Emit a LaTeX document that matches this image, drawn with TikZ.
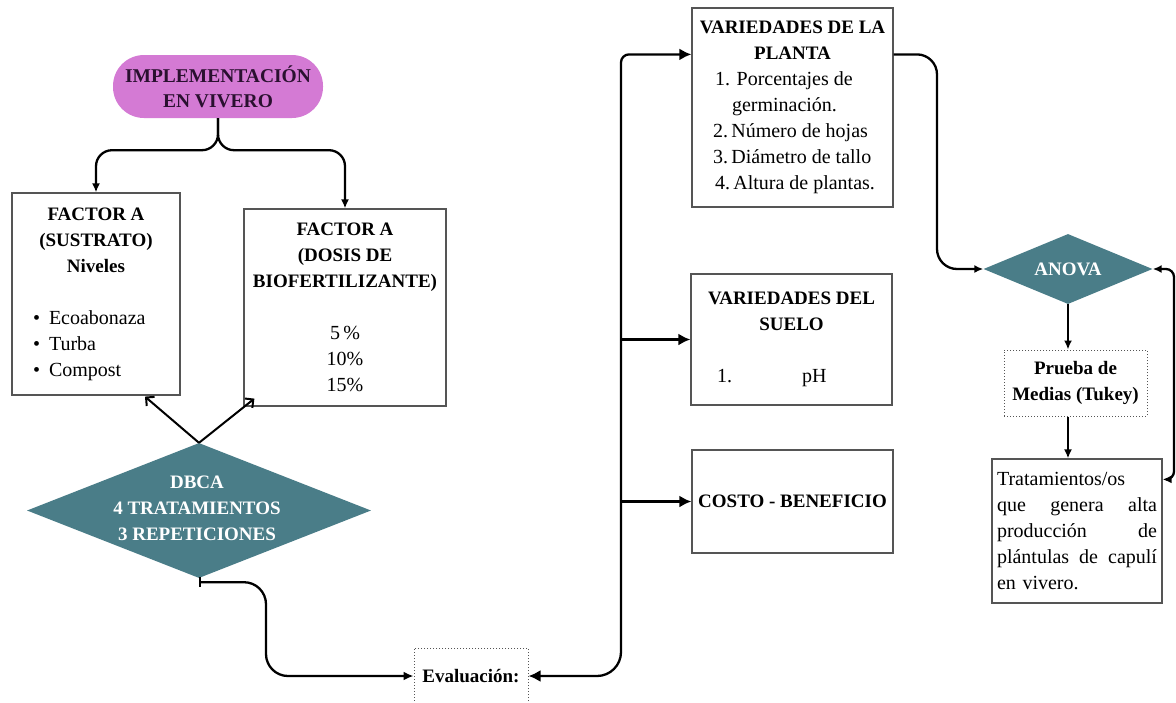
\documentclass[tikz,border=0pt]{standalone}
\usepackage{fontspec}
\setmainfont{Liberation Serif}
\usetikzlibrary{shapes.geometric,arrows.meta,calc}
\definecolor{pillc}{HTML}{D47AD4}
\definecolor{tealc}{HTML}{4A7D88}
\definecolor{pilltext}{HTML}{2A1030}
\definecolor{edgec}{HTML}{555555}
\newcommand\hb[1]{{\fontsize{19}{26}\selectfont\bfseries #1}}
\begin{document}
\begin{tikzpicture}[x=1pt,y=-1pt,
  every node/.style={font=\fontsize{20}{26}\selectfont, inner sep=0pt},
  bf/.style={font=\fontsize{19}{26}\selectfont\bfseries},
  box/.style={draw=edgec, line width=1.2pt, rectangle, align=center},
  dotbox/.style={draw=edgec, line width=1pt, dotted, rectangle, align=center},
  conn/.style={line width=2.3pt, black},
  bigtip/.style={-{Latex[length=12pt,width=12pt]}},
  smalltip/.style={-{Latex[length=9pt,width=8pt]}},
  bitip/.style={{Latex[length=9pt,width=8pt]}-{Latex[length=9pt,width=8pt]}},
  bigbitip/.style={{Latex[length=12pt,width=12pt]}-{Latex[length=12pt,width=12pt]}},
  barbtip/.style={-{Straight Barb[length=6pt,width=12pt]}}
]
\useasboundingbox (0,0) rectangle (1176,702);
\fill[white] (0,0) rectangle (1176,702);

% ---------- nodes ----------
\node[fill=pillc, rounded corners=31pt, minimum width=210pt, minimum height=63pt,
      align=center, text=pilltext, font=\fontsize{19.5}{25}\selectfont\bfseries] (pill) at (218,86.5)
      {IMPLEMENTACIÓN\\EN VIVERO};

\node[box, minimum width=168pt, minimum height=202pt] (lbox) at (96,294)
  {\hb{FACTOR A}\\\hb{(SUSTRATO)}\\\hb{Niveles}\\[26pt]
   \makebox[126pt][l]{•\hspace{9pt}Ecoabonaza}\\
   \makebox[126pt][l]{•\hspace{9pt}Turba}\\
   \makebox[126pt][l]{•\hspace{9pt}Compost}};

\node[box, minimum width=202pt, minimum height=197pt] (rbox) at (345,307.5)
  {\hb{FACTOR A}\\\hb{(DOSIS DE}\\\hb{BIOFERTILIZANTE)}\\[26pt]
   5\,\%\\10\%\\15\%};

\node[diamond, fill=tealc, minimum width=344pt, minimum height=135pt, inner sep=0pt] (dbca) at (199,510.5) {};
\node[bf, text=white, align=center] (dbcatext) at (197,508.5)
  {DBCA\\4 TRATAMIENTOS\\3 REPETICIONES};

\node[dotbox, minimum width=114pt, minimum height=80pt] (evalbox) at (471,688) {};
\node[bf] (evaltext) at (471,676) {Evaluación:};

\node[box, minimum width=201pt, minimum height=199pt] (box1) at (792.5,107.5)
  {\hb{VARIEDADES DE LA}\\\hb{PLANTA}\\
   \makebox[159pt][l]{\hspace{2pt}1. Porcentajes de}\\
   \makebox[159pt][l]{\hspace{19pt}germinación.}\\
   \makebox[159pt][l]{2.\,Número de hojas}\\
   \makebox[159pt][l]{3.\,Diámetro de tallo}\\
   \makebox[159pt][l]{\hspace{2pt}4.\,Altura de plantas.}};

\node[box, minimum width=201pt, minimum height=131pt] (box2) at (791.5,339.5)
  {\hb{VARIEDADES DEL}\\\hb{SUELO}\\[26pt]
   \makebox[149pt][l]{1.\hspace{70pt}pH}};

\node[box, minimum width=201pt, minimum height=103pt, bf] (box3) at (792.5,501.5)
  {COSTO - BENEFICIO};

\node[diamond, fill=tealc, minimum width=169pt, minimum height=70pt, inner sep=0pt] (anova) at (1068,269) {};
\node[bf, text=white] (anovatext) at (1068,269) {ANOVA};

\node[dotbox, minimum width=143pt, minimum height=66pt, bf] (prueba) at (1075.5,383)
  {Prueba de\\Medias (Tukey)};

\node[box, minimum width=170pt, minimum height=144pt, text width=160pt, align=left] (trat) at (1077,531)
  {Tratamientos/os\\
   \makebox[160pt][l]{que\hfill genera\hfill alta}\\
   \makebox[160pt][l]{producción\hfill de}\\
   \makebox[160pt][l]{plántulas\hfill de\hfill capulí}\\
   en vivero.};

% ---------- helper coordinates ----------
\coordinate (tx) at (621,0);
\coordinate (jx) at (266,0);
\coordinate (ax) at (937,0);
\coordinate (rx) at (1174,0);
\coordinate (b1in) at ($(box1.north west)+(0,47)$);
\coordinate (b1out) at ($(box1.north east)+(0,47)$);
\coordinate (tratin) at ($(trat.north east)+(0,21)$);

% ---------- connectors ----------
\draw[conn, smalltip, rounded corners=16pt] (pill.south) -- ++(0,32) -| (lbox.north);
\draw[conn, smalltip, rounded corners=16pt] (pill.south) -- ++(0,32) -| (rbox.north);

\draw[conn, line width=2pt, barbtip] (dbca.north) -- ($(lbox.south)+(49,1)$);
\draw[conn, line width=2pt, barbtip] (dbca.north) -- ($(rbox.south west)+(11,-8)$);

\draw[conn, {Bar[width=10pt]}-{Latex[length=10pt,width=9pt]}, rounded corners=22pt]
  ($(dbca.south)+(0,4)$) -| (jx |- 0,630) |- (evalbox.west |- evaltext.center);

\draw[conn, bigbitip] (b1in) [rounded corners=8pt] -| (tx |- 0,400)
  [rounded corners=24pt] |- (evalbox.east |- evaltext.center);
\draw[conn, bigtip] (tx |- box2.west) -- (box2.west);
\draw[conn, bigtip] (tx |- box3.west) -- (box3.west);

\draw[conn, smalltip, rounded corners=20pt] (b1out) -| (ax |- 0,160) |- (anova.west);

\draw[conn, smalltip] (anova.south) -- (anova.south |- prueba.north);
\draw[conn, smalltip] (anova.south |- prueba.south) -- (anova.south |- trat.north);

\draw[conn, bitip, rounded corners=8pt] (anova.east) -| (rx |- 0,400) |- (tratin);
\end{tikzpicture}
\end{document}
